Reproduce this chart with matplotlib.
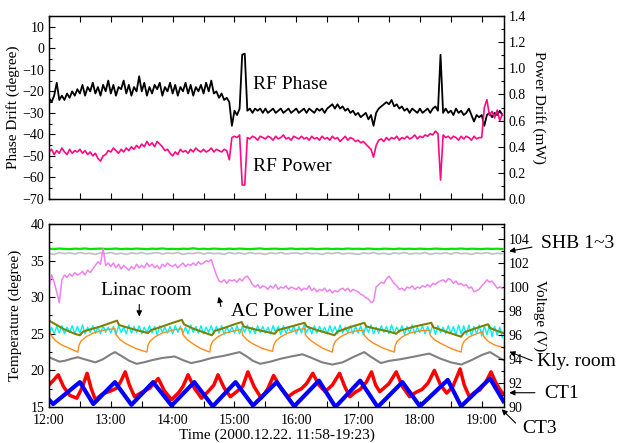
import numpy as np
import matplotlib
matplotlib.use('Agg')
import matplotlib.pyplot as plt
from matplotlib.ticker import MultipleLocator, FixedLocator, FuncFormatter

plt.rcParams['font.family'] = ['Liberation Serif', 'DejaVu Serif']

# ---------------- DATA ----------------
# Top panel, 2.5-minute samples from 12:00
rf_phase = [  # degree
    -23, -25, -22, -16, -24, -22, -24, -21, -23, -20, -22, -19,
    -21, -17, -22, -18, -20, -16, -21, -18, -22, -17, -20, -15,
    -21, -17, -22, -18, -19, -15, -21, -17, -22, -18, -20, -13,
    -20, -16, -22, -18, -21, -17, -19, -16, -22, -18, -20, -16,
    -21, -17, -22, -18, -20, -16, -21, -17, -22, -18, -20, -17,
    -21, -16, -20, -15, -21, -20, -23, -21, -24, -23, -25, -36,
    -29, -31, -28, -3, -2.5, -29, -28, -30, -28, -29, -28, -30,
    -28, -30, -29, -28, -30, -29, -28, -30, -29, -28, -30, -29,
    -28, -30, -29, -28, -30, -28, -29, -30, -28, -29, -28, -30,
    -28, -27, -26, -28, -26, -28, -27, -29, -28, -30, -29, -31,
    -30, -32, -31, -30, -33, -31, -36, -30, -28, -27, -26, -25,
    -26, -24, -27, -26, -28, -27, -29, -28, -30, -28, -29, -30,
    -28, -30, -29, -28, -30, -28, -27, -29, -3, -30, -28, -30,
    -29, -31, -28, -30, -29, -31, -30, -28, -31, -34, -31, -32,
    -31, -36, -31, -30, -32, -30, -31, -29, -31]
rf_power = [  # mW
    .36, .38, .34, .37, .35, .39, .36, .34, .38, .35, .37, .36,
    .38, .35, .37, .34, .36, .33, .35, .31, .29, .33, .34, .37,
    .36, .39, .37, .35, .38, .36, .39, .37, .40, .38, .41, .39,
    .42, .40, .44, .41, .43, .40, .44, .42, .40, .37, .38, .35,
    .33, .36, .34, .38, .36, .37, .35, .38, .36, .39, .37, .36,
    .38, .36, .37, .39, .36, .38, .37, .36, .38, .37, .30, .47,
    .48, .47, .49, .107, .107, .47, .46, .48, .47, .45, .48, .47,
    .46, .48, .47, .45, .48, .46, .47, .49, .46, .47, .45, .48,
    .47, .46, .48, .46, .47, .45, .48, .46, .47, .45, .48, .46,
    .47, .45, .48, .46, .47, .44, .46, .48, .45, .47, .46, .44,
    .45, .43, .44, .42, .40, .38, .32, .41, .45, .46, .44, .47,
    .45, .47, .46, .48, .45, .47, .46, .48, .46, .47, .49, .46,
    .48, .47, .49, .48, .50, .49, .52, .50, .145, .49, .47, .48,
    .46, .48, .47, .45, .48, .46, .48, .47, .45, .48, .46, .47,
    .47, .70, .76, .64, .67, .62, .68, .60, .65]

# Bottom panel
linac_cyan = [  # degree, 2.5-minute samples
    24.8, 25.9, 25.0, 26.0, 25.1, 26.1, 25.0, 25.9, 25.2, 26.1, 25.0, 26.0,
    25.1, 26.2, 25.0, 25.9, 25.2, 26.1, 25.1, 26.0, 25.0, 26.1, 25.2, 25.9,
    25.1, 26.0, 24.9, 26.1, 25.2, 25.9, 25.0, 26.2, 25.1, 26.0, 25.2, 26.1,
    25.0, 25.9, 25.2, 26.1, 25.1, 26.0, 24.9, 26.1, 25.2, 25.9, 25.1, 26.0,
    25.0, 26.1, 25.2, 26.0, 25.1, 25.9, 25.0, 26.2, 25.2, 26.0, 25.1, 26.1,
    25.0, 25.9, 25.2, 26.1, 25.0, 26.0, 25.1, 26.1, 24.9, 26.0, 25.2, 25.9,
    25.1, 26.1, 25.0, 26.0, 25.2, 26.2, 25.1, 25.9, 25.0, 26.1, 25.2, 26.0,
    25.1, 25.9, 25.0, 26.1, 25.2, 26.0, 24.9, 26.1, 25.1, 25.9, 25.2, 26.1,
    25.0, 26.0, 25.1, 26.2, 25.2, 25.9, 25.0, 26.1, 25.1, 26.0, 25.2, 25.9,
    25.0, 26.1, 25.2, 26.0, 25.0, 26.2, 25.1, 25.9, 25.2, 26.1, 25.0, 26.0,
    25.1, 26.1, 24.9, 26.0, 25.2, 26.2, 25.0, 25.9, 25.1, 26.1, 25.2, 26.0,
    25.0, 26.2, 25.1, 25.9, 25.2, 26.1, 24.9, 26.0, 25.1, 26.2, 25.0, 25.9,
    25.2, 26.1, 25.0, 26.0, 25.1, 26.2, 24.9, 26.1, 25.2, 25.9, 25.0, 26.1,
    25.1, 26.0, 24.8, 26.2, 25.0, 26.1, 24.9, 26.2, 24.8, 26.0, 25.0, 26.2,
    24.7, 26.1, 24.9, 26.2, 24.6, 26.0, 24.8, 25.9, 24.5]
ac_line = [  # volt, 2.5-minute samples
    100.0, 101.0, 100.4, 99.6, 98.7, 100.6, 101.0, 100.8, 101.1, 100.9, 101.2, 101.0,
    101.1, 101.3, 101.0, 101.4, 101.2, 101.5, 101.8, 102.1, 101.9, 103.2, 101.8, 102.0,
    101.7, 102.0, 101.6, 101.9, 101.5, 101.8, 101.6, 101.4, 101.7, 101.5, 101.9, 101.6,
    101.8, 101.6, 102.0, 101.7, 101.9, 101.6, 101.8, 101.5, 101.9, 101.7, 102.0, 101.8,
    101.7, 101.9, 101.6, 101.8, 102.0, 101.7, 101.9, 101.8, 102.0, 101.8, 102.1, 101.9,
    102.0, 102.2, 102.1, 102.3, 101.6, 101.0, 100.5, 100.4, 100.6, 100.3, 100.6, 100.5,
    100.6, 100.4, 100.7, 100.5, 100.8, 100.9, 100.6, 100.2, 100.0, 100.2, 99.9, 100.1,
    100.0, 99.8, 100.1, 99.9, 100.2, 99.8, 100.0, 99.9, 100.1, 99.8, 100.0, 99.9,
    99.8, 100.0, 99.7, 99.9, 99.8, 100.1, 99.7, 99.9, 99.6, 99.8, 99.7, 99.9,
    99.6, 99.8, 99.5, 99.7, 99.6, 99.8, 99.9, 99.7, 99.9, 99.6, 99.8, 99.7,
    99.6, 99.4, 99.3, 99.1, 99.0, 98.7, 98.8, 100.0, 100.2, 100.4, 100.3, 100.7,
    100.9, 100.6, 100.3, 100.1, 99.8, 99.9, 99.7, 100.0, 99.9, 100.1, 99.8, 100.0,
    99.9, 100.1, 100.0, 100.2, 100.0, 100.3, 100.2, 100.4, 100.5, 100.6, 100.4, 100.7,
    100.6, 100.3, 100.5, 100.2, 100.3, 100.1, 100.2, 99.9, 100.0, 99.6, 99.7, 99.8,
    100.1, 100.3, 100.6, 100.4, 100.5, 100.2, 99.9, 100.0, 99.9]
shb_green = [  # degree, 5-minute samples
    36.62, 36.58, 36.65, 36.60, 36.57, 36.63, 36.60, 36.66, 36.58, 36.61, 36.64, 36.59,
    36.60, 36.65, 36.57, 36.62, 36.59, 36.64, 36.61, 36.57, 36.63, 36.60, 36.66, 36.58,
    36.61, 36.57, 36.63, 36.60, 36.68, 36.59, 36.62, 36.58, 36.64, 36.60, 36.57, 36.63,
    36.59, 36.64, 36.60, 36.57, 36.62, 36.66, 36.58, 36.61, 36.63, 36.59, 36.60, 36.65,
    36.58, 36.62, 36.60, 36.64, 36.57, 36.61, 36.63, 36.59, 36.62, 36.58, 36.65, 36.60,
    36.62, 36.59, 36.64, 36.60, 36.57, 36.63, 36.61, 36.58, 36.64, 36.60, 36.62, 36.59,
    36.63, 36.60, 36.58, 36.64, 36.61, 36.57, 36.62, 36.60, 36.65, 36.59, 36.62, 36.60,
    36.58, 36.63, 36.60, 36.62, 36.59]
shb_gray = [  # degree, 5-minute samples
    35.95, 35.85, 36.10, 35.95, 36.05, 35.90, 36.10, 35.95, 36.00, 35.85, 36.05, 35.95,
    36.10, 35.90, 36.00, 35.85, 36.05, 35.95, 36.10, 35.90, 36.00, 36.10, 35.90, 36.05,
    35.95, 36.10, 35.85, 36.00, 35.95, 36.10, 35.90, 36.05, 35.95, 36.00, 35.85, 36.10,
    35.95, 36.05, 35.90, 36.10, 35.95, 36.00, 35.85, 36.05, 35.95, 36.10, 35.90, 36.00,
    36.05, 35.90, 36.10, 35.95, 36.00, 35.85, 36.05, 35.95, 36.10, 35.90, 36.00, 35.95,
    35.85, 36.05, 35.95, 36.10, 35.90, 36.00, 35.85, 36.05, 35.95, 36.10, 35.90, 36.00,
    35.95, 36.10, 35.85, 36.00, 35.95, 36.05, 35.90, 36.10, 35.95, 36.00, 35.85, 36.05,
    35.95, 36.10, 35.90, 36.00, 35.95]

olive_t = ['12:00', '12:05', '12:10', '12:15', '12:20', '12:25', '12:30', '12:33', '12:40', '12:50',
           '13:00', '13:06', '13:08', '13:15', '13:25', '13:36', '13:39', '13:50', '14:00', '14:09',
           '14:11', '14:20', '14:30', '14:38', '14:41', '14:50', '15:00', '15:07', '15:09', '15:20',
           '15:30', '15:39', '15:42', '15:55', '16:08', '16:10', '16:20', '16:30', '16:37', '16:40',
           '16:52', '17:06', '17:08', '17:20', '17:30', '17:37', '17:40', '17:55', '18:11', '18:13',
           '18:25', '18:40', '18:43', '18:55', '19:06', '19:08', '19:15', '19:21']
olive_v = [26.8, 26.4, 26.0, 25.6, 25.3, 25.0, 24.8, 25.3, 25.6, 26.0,
           26.5, 26.8, 26.2, 25.9, 25.5, 25.1, 25.5, 26.0, 26.5, 26.9,
           26.3, 25.7, 25.2, 24.8, 25.4, 25.8, 26.3, 26.6, 26.0, 25.6,
           25.3, 25.0, 25.5, 26.0, 26.5, 26.0, 25.5, 25.1, 24.8, 25.3,
           25.9, 26.5, 26.0, 25.6, 25.3, 25.0, 25.4, 26.0, 26.5, 25.9,
           25.3, 24.6, 25.2, 25.8, 26.3, 25.8, 25.4, 25.1]

orange_t = ['12:00', '12:02', '12:06', '12:12', '12:20', '12:28', '12:29', '12:31', '12:36', '12:43',
            '12:53', '13:04', '13:05', '13:09', '13:14', '13:24', '13:35', '13:36', '13:38', '13:43',
            '13:50', '14:00', '14:09', '14:10', '14:14', '14:19', '14:27', '14:36', '14:37', '14:39',
            '14:44', '14:51', '15:00', '15:07', '15:08', '15:12', '15:17', '15:27', '15:37', '15:38',
            '15:40', '15:45', '15:52', '16:00', '16:08', '16:09', '16:13', '16:18', '16:26', '16:35',
            '16:36', '16:38', '16:43', '16:50', '16:58', '17:05', '17:06', '17:10', '17:15', '17:25',
            '17:35', '17:36', '17:38', '17:43', '17:50', '18:00', '18:09', '18:10', '18:14', '18:20',
            '18:30', '18:40', '18:41', '18:43', '18:48', '18:55', '19:01', '19:02', '19:06', '19:12',
            '19:21']
orange_v = [25.6, 24.8, 24.1, 23.5, 23.0, 22.5, 23.4, 24.0, 24.6, 25.1,
            25.5, 25.7, 24.9, 24.2, 23.7, 23.0, 22.5, 23.4, 24.0, 24.6,
            25.1, 25.5, 25.7, 24.9, 24.2, 23.7, 23.0, 22.5, 23.4, 24.0,
            24.6, 25.1, 25.4, 25.6, 24.8, 24.2, 23.7, 23.0, 22.6, 23.4,
            24.0, 24.6, 25.1, 25.5, 25.7, 24.8, 24.2, 23.7, 23.0, 22.5,
            23.4, 24.0, 24.6, 25.1, 25.4, 25.5, 24.8, 24.2, 23.7, 23.0,
            22.5, 23.4, 24.0, 24.6, 25.1, 25.4, 25.5, 24.8, 24.2, 23.7,
            23.0, 22.5, 23.4, 24.0, 24.6, 25.0, 25.3, 24.6, 24.0, 23.5,
            23.1]

kly_t = ['12:00', '12:05', '12:10', '12:15', '12:22', '12:28', '12:35', '12:45', '12:52', '13:00',
         '13:04', '13:10', '13:18', '13:25', '13:32', '13:40', '13:50', '14:02', '14:10', '14:18',
         '14:28', '14:38', '14:50', '15:05', '15:12', '15:18', '15:25', '15:35', '15:45', '15:55',
         '16:06', '16:15', '16:25', '16:35', '16:45', '16:55', '17:06', '17:12', '17:22', '17:30',
         '17:40', '17:55', '18:09', '18:20', '18:30', '18:40', '18:50', '19:00', '19:08', '19:15',
         '19:21']
kly_v = [21.8, 21.5, 21.2, 21.3, 21.6, 21.8, 21.5, 21.1, 21.5, 22.2,
         22.5, 22.0, 21.3, 20.9, 21.1, 21.4, 21.7, 21.9, 21.4, 21.0,
         21.3, 21.7, 22.0, 22.5, 21.9, 21.3, 20.9, 21.2, 21.6, 21.9,
         22.2, 21.7, 21.1, 20.8, 21.1, 21.8, 22.5, 21.9, 21.0, 21.3,
         21.5, 21.9, 22.3, 21.6, 21.1, 20.8, 21.4, 22.1, 22.5, 21.9,
         21.4]

ct1_t = ['12:00', '12:04', '12:09', '12:14', '12:20', '12:27', '12:32', '12:37', '12:41', '12:45',
         '12:52', '13:00', '13:06', '13:10', '13:14', '13:18', '13:23', '13:30', '13:38', '13:46',
         '13:52', '13:59', '14:06', '14:10', '14:15', '14:21', '14:28', '14:35', '14:40', '14:44',
         '14:50', '14:56', '15:03', '15:08', '15:13', '15:19', '15:26', '15:32', '15:38', '15:45',
         '15:52', '15:58', '16:05', '16:10', '16:16', '16:22', '16:28', '16:35', '16:42', '16:47',
         '16:52', '16:57', '17:02', '17:08', '17:13', '17:17', '17:21', '17:30', '17:37', '17:43',
         '17:50', '17:56', '18:02', '18:08', '18:14', '18:20', '18:26', '18:32', '18:39', '18:43',
         '18:48', '18:53', '18:58', '19:04', '19:09', '19:14', '19:19', '19:21']
ct1_v = [18.0, 18.6, 19.4, 17.8, 16.6, 16.2, 17.6, 19.6, 17.5, 16.0,
         16.8, 17.2, 17.6, 18.6, 19.8, 18.0, 16.4, 17.0, 17.6, 18.9,
         17.2, 16.0, 17.0, 17.8, 19.4, 17.6, 16.2, 17.2, 18.0, 19.4,
         17.6, 16.4, 17.2, 17.8, 19.8, 17.8, 16.2, 17.4, 19.3, 17.6,
         16.4, 17.0, 17.5, 18.2, 19.6, 18.0, 17.1, 18.0, 19.6, 17.8,
         16.4, 17.0, 17.4, 18.4, 19.8, 18.0, 17.1, 18.2, 19.8, 17.8,
         16.4, 17.0, 17.4, 18.3, 20.0, 18.0, 16.9, 17.8, 20.2, 18.0,
         16.4, 17.0, 17.3, 18.4, 19.8, 18.2, 17.1, 16.8]

ct3_t = ['12:00', '12:04', '12:30', '12:43', '13:04', '13:20', '13:41', '13:59', '14:21', '14:39',
         '15:01', '15:18', '15:41', '15:58', '16:22', '16:38', '17:02', '17:19', '17:43', '18:00',
         '18:27', '18:40', '19:08', '19:21']
ct3_v = [16.0, 15.4, 18.4, 15.4, 18.4, 15.3, 18.4, 15.2, 18.4, 15.1,
         18.4, 15.2, 18.4, 15.1, 18.6, 15.0, 18.6, 15.0, 18.4, 15.1,
         18.7, 15.1, 18.9, 15.8]

hour_labels = ['12:00', '13:00', '14:00', '15:00', '16:00', '17:00', '18:00', '19:00']


def hrs(s):
    h, m = s.split(':')
    return int(h) + int(m) / 60.0


t25 = 12 + np.arange(len(rf_phase)) * 2.5 / 60.0
t5 = 12 + np.arange(len(shb_green)) * 5.0 / 60.0

# ---------------- FIGURE ----------------
fig = plt.figure(figsize=(6.21, 4.43), dpi=100)
W, H = 621.0, 443.0
ax1 = fig.add_axes([49 / W, (H - 199) / H, 455 / W, 183 / H])
ax2 = fig.add_axes([49 / W, (H - 407) / H, 455 / W, 183 / H])
ax1r = ax1.twinx()
ax2r = ax2.twinx()

XMIN, XMAX = 12.0, hrs('19:21') + 0.01

# top
ax1.plot(t25, rf_phase, color='black', lw=1.3)
ax1r.plot(t25, rf_power, color='#ff0a84', lw=1.2)
ax1.set_ylim(-70, 15)
ax1r.set_ylim(0, 1.4)
ax1.set_ylabel('Phase Drift (degree)', fontsize=11, labelpad=2)
ax1r.set_ylabel('Power Drift (mW)', fontsize=11, rotation=270, labelpad=14)
ax1.yaxis.set_major_locator(MultipleLocator(10))
ax1.yaxis.set_minor_locator(MultipleLocator(5))
ax1r.yaxis.set_major_locator(MultipleLocator(0.2))
ax1r.yaxis.set_minor_locator(MultipleLocator(0.1))
ax1r.yaxis.set_major_formatter(FuncFormatter(lambda v, p: f'{v:.1f}'))

# bottom
ax2.plot(t5, shb_gray, color='#c0c0c0', lw=1.2)
ax2.plot(t5, shb_green, color='#00e600', lw=1.6)
ax2r.plot(t25, ac_line, color='#ee82ee', lw=1.1)
ax2.plot(t25, linac_cyan, color='#00f0f0', lw=1.0)
ax2.plot([hrs(s) for s in orange_t], orange_v, color='#ff8c1a', lw=1.0)
ax2.plot([hrs(s) for s in olive_t], olive_v, color='#808000', lw=1.5)
ax2.plot([hrs(s) for s in kly_t], kly_v, color='#808080', lw=1.5)
ax2.plot([hrs(s) for s in ct1_t], ct1_v, color='#ff0000', lw=2.5)
ax2.plot([hrs(s) for s in ct3_t], ct3_v, color='#0000ff', lw=3.0)
ax2.set_ylim(15, 40)
ax2r.set_ylim(90, 105.25)
ax2.set_ylabel('Temperature (degree)', fontsize=11, labelpad=6)
ax2r.set_ylabel('Voltage (V)', fontsize=11, rotation=270, labelpad=12)
ax2.set_xlabel('Time (2000.12.22. 11:58-19:23)', fontsize=11, labelpad=1)
ax2.yaxis.set_major_locator(MultipleLocator(5))
ax2.yaxis.set_minor_locator(MultipleLocator(2.5))
ax2r.yaxis.set_major_locator(MultipleLocator(2))
ax2r.yaxis.set_minor_locator(MultipleLocator(1))

ticks = [12 + 0.5 * i for i in range(15)]
for ax in (ax1, ax2, ax1r, ax2r):
    ax.set_xlim(XMIN, XMAX)
    ax.xaxis.set_major_locator(FixedLocator(ticks))
    ax.tick_params(direction='in', which='both', labelsize=10, length=4, width=0.8)
    ax.tick_params(which='minor', length=2.5)
    for sp in ax.spines.values():
        sp.set_linewidth(0.9)
for ax in (ax1, ax2):
    ax.tick_params(axis='x', top=True, bottom=True)
ax1.tick_params(axis='x', labelbottom=False)
ax1r.tick_params(axis='x', labelbottom=False)
ax2.tick_params(axis='x', pad=5)
ax2.xaxis.set_major_formatter(FuncFormatter(
    lambda v, p: hour_labels[int(round(v - 12))] if abs(v - round(v)) < 1e-6 and int(round(v - 12)) < len(hour_labels) else ''))

# annotations
fs = 14
ax1.text(hrs('15:18'), -16.6, 'RF Phase', fontsize=fs, va='center', ha='left')
ax1.text(hrs('15:18'), -54.7, 'RF Power', fontsize=fs, va='center', ha='left')

ax2.text(13.568, 30.98, 'Linac room', fontsize=fs, va='center', ha='center')
ax2.annotate('', xy=(13.46, 26.98), xytext=(13.46, 29.39),
             arrowprops=dict(arrowstyle='-|>', color='black', lw=0.8, mutation_scale=8))
ax2.text(15.928, 28.11, 'AC Power Line', fontsize=fs, va='center', ha='center')
ax2.annotate('', xy=(14.737, 30.44), xytext=(14.79, 28.35),
             arrowprops=dict(arrowstyle='-|>', color='black', lw=0.8, mutation_scale=8))

ax2.text(19.965, 37.4, 'SHB 1~3', fontsize=fs, va='center', ha='left')
ax2.annotate('', xy=(19.40, 36.22), xytext=(19.856, 36.9), annotation_clip=False,
             arrowprops=dict(arrowstyle='-|>', color='black', lw=0.8, mutation_scale=8))
ax2.text(19.89, 21.15, 'Kly. room', fontsize=fs, va='center', ha='left')
ax2.annotate('', xy=(19.404, 22.69), xytext=(19.856, 21.19), annotation_clip=False,
             arrowprops=dict(arrowstyle='-|>', color='black', lw=0.8, mutation_scale=8))
ax2.text(20.018, 16.91, 'CT1', fontsize=fs, va='center', ha='left')
ax2.annotate('', xy=(19.40, 16.95), xytext=(19.905, 16.95), annotation_clip=False,
             arrowprops=dict(arrowstyle='-|>', color='black', lw=0.8, mutation_scale=8))
ax2.text(19.663, 12.13, 'CT3', fontsize=fs, va='center', ha='left')
ax2.annotate('', xy=(19.29, 14.96), xytext=(19.58, 12.54), annotation_clip=False,
             arrowprops=dict(arrowstyle='-|>', color='black', lw=0.8, mutation_scale=8))

fig.savefig('out.png', dpi=100)
